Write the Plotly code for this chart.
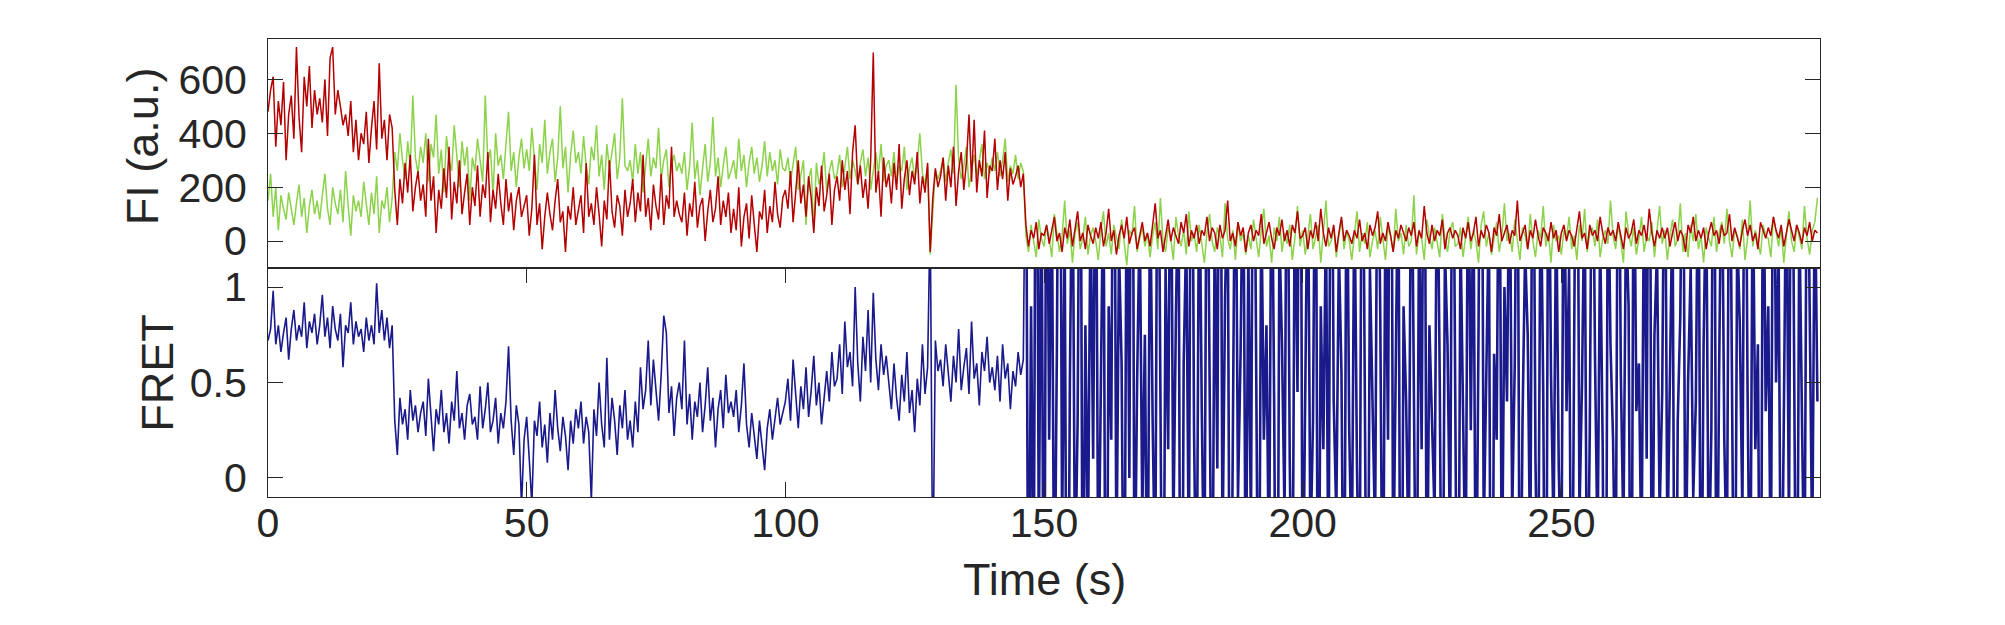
import plotly.graph_objects as go

# 时间步长 (s)，每个点 0.5 s
FRAME_DT = 0.5
# FRET 开始剧烈跳动的帧 (146.5 s)
BLEACH_IDX = 293

# 受体荧光 (红色)，每行 10 s
ACCEPTOR = [
    480, 560, 610, 350, 520, 430, 590, 300, 470, 540, 380, 720, 460, 330, 610, 500, 650, 420, 560, 470,
    530, 440, 600, 390, 680, 720, 470, 560, 500, 430, 470, 390, 520, 330, 450, 300, 400, 360, 480, 290,
    420, 520, 340, 660, 380, 450, 300, 470, 420, 190, 60, 230, 140, 290, 180, 320, 110, 200, 260, 150,
    210, 90, 380, 150, 240, 30, 190, 120, 270, 160, 350, 80, 220, 140, 300, 100, 180, 250, 60, 200,
    130, 280, 90, 210, 160, 330, 70, 190, 120, 250, 140, 60, 230, 110, 180, 40, 150, 200, 90, 130,
    170, 20, 120, 320, 60, 140, -30, 90, 180, 100, 40, 150, 230, 70, 110, -40, 130, 80, 200, 60,
    120, 170, 30, 290, 90, 140, 60, 200, 100, -20, 150, 80, 300, 110, 50, 170, 130, 20, 190, 90,
    140, 230, 70, 180, 110, 320, 90, 160, 40, 210, 130, 80, 250, 60, 170, 120, 350, 90, 150, 100,
    70, 180, 20, 140, 90, 220, 50, 130, 160, 0, 110, 190, 70, 120, 240, 60, 150, 90, 180, 30,
    120, 40, 200, -20, 90, 140, 10, 170, 60, -40, 110, 80, 190, 30, 130, 70, 220, 100, 50, 160,
    190, 120, 260, 70, 180, 300, 140, 210, 90, 240, 160, 30, 200, 130, 280, 110, 170, 250, 60, 190,
    240, 150, 300, 190, 260, 100, 330, 430, 210, 280, 160, 230, 120, 300, 700, 180, 260, 90, 310, 200,
    250, 140, 290, 190, 360, 120, 230, 300, 170, 260, 210, 330, 140, 240, 180, 290, -40, 160, 270, 200,
    240, 310, 150, 280, 200, 350, 130, 260, 330, 190, 290, 470, 220, 450, 180, 300, 240, 410, 160, 280,
    260, 380, 190, 300, 230, 330, 150, 270, 210, 240, 280, 200, 250, 60, -20, 40, 10, 70, -30, 30,
    20, 60, -10, 40, 90, 0, 30, -40, 50, 10, 80, -20, 40, 110, 0, 30, -30, 60, 20, -10,
    50, 10, 70, -20, 30, 120, 0, 40, -50, 20, 60, 10, 90, -10, 30, 50, -30, 20, 70, 0,
    30, -20, 60, 140, 10, 40, -40, 30, 80, 0, 50, 20, -10, 70, 30, 100, -20, 40, 10, 60,
    -10, 40, 20, 90, 0, 50, 30, -30, 60, 10, 40, 150, 0, 30, -20, 70, 20, 50, -40, 30,
    60, 0, 40, 20, 100, -10, 30, 70, 10, -30, 50, 20, 80, 0, 40, -20, 60, 30, 110, 10,
    20, 50, -30, 40, 10, 70, 0, 120, 30, -20, 50, 10, 60, -40, 30, 90, 0, 40, 20, -10,
    40, 10, 80, 0, 30, -30, 60, 20, 50, 110, -10, 30, 0, 70, 20, -40, 40, 10, 60, 30,
    0, 50, 20, 70, -20, 40, 10, 130, 30, -10, 60, 0, 40, 20, 80, -30, 30, 50, 10, 40,
    20, -30, 50, 10, 70, 0, 30, 90, -20, 40, 10, 60, 30, -40, 50, 20, 100, 0, 30, 60,
    -10, 40, 20, 150, 0, 30, 60, -30, 40, 10, 80, 20, -20, 50, 30, 0, 70, 10, 40, -40,
    30, 60, 0, 40, 20, -20, 50, 110, 10, 30, -30, 60, 20, 40, 0, 90, 30, -10, 50, 20,
    40, 0, 70, 20, -30, 50, 10, 30, 80, -10, 40, 20, 60, 0, 120, 30, -20, 40, 10, 50,
    10, 50, -20, 30, 70, 0, 40, 20, -40, 60, 30, 90, 0, 40, 10, 50, -30, 30, 70, 20,
    40, -10, 60, 20, 30, 100, 0, 50, 10, -20, 40, 80, 20, 60, 0, 30, -30, 70, 40, 10,
    50, 20, 90, 40, 10, 60, -20, 30, 80, 40, 0, 60, 30, -10, 50, 20, 70, 0, 40, 30,
]

# 供体荧光 (绿色)
DONOR = [
    150, 250, 90, 200, 40, 170, 120, 80, 180, 110, 60, 140, 210, 90, 160, 30, 130, 190, 100, 150,
    80, 170, 250, 120, 60, 200, 140, 100, 190, 70, 260, 130, 20, 170, 110, 150, 90, 220, 130, 60,
    180, 100, 240, 30, 150, 120, 200, 70, 160, 330, 260, 400, 300, 230, 370, 280, 540, 310, 250, 350,
    290, 400, 220, 360, 310, 470, 250, 340, 180, 390, 300, 260, 430, 320, 200, 370, 280, 350, 150, 310,
    260, 380, 300, 220, 540, 290, 340, 170, 400, 280, 320, 230, 360, 480, 260, 330, 200, 310, 380, 270,
    340, 260, 420, 300, 190, 360, 290, 450, 250, 330, 380, 220, 310, 500, 270, 350, 180, 320, 410, 290,
    330, 250, 390, 280, 210, 350, 300, 430, 240, 320, 190, 360, 270, 330, 400, 230, 310, 530, 280, 260,
    300, 220, 360, 250, 330, 180, 290, 380, 240, 310, 270, 420, 230, 300, 340, 200, 280, 320, 260, 290,
    250, 330, 190, 280, 440, 230, 300, 170, 270, 360, 220, 290, 460, 240, 310, 200, 280, 350, 230, 260,
    300, 230, 380, 260, 320, 200, 290, 350, 250, 310, 220, 280, 370, 240, 330, 260, 300, 210, 340, 270,
    260, 310, 220, 280, 350, 190, 240, 300, 60, 230, 270, 40, 290, 210, 250, 330, 180, 260, 300, 230,
    250, 320, 200, 280, 350, 230, 300, 260, 210, 290, 340, 240, 310, 190, 270, 330, 250, 360, 220, 280,
    300, 240, 330, 210, 280, 260, 350, 190, 270, 310, 230, 290, 400, 250, 210, 280, -50, 120, 260, 230,
    260, 310, 220, 290, 340, 250, 580, 300, 230, 280, 350, 200, 270, 320, 240, 300, 360, 230, 290, 250,
    310, 260, 330, 240, 300, 380, 220, 280, 250, 320, 230, 290, 260, 20, -40, 60, 0, -60, 80, 10,
    -20, 60, 10, -60, 100, 30, -40, 20, 150, -10, 40, -80, 30, 70, -30, 10, 90, -50, 20, 50,
    0, -70, 40, 110, -20, 30, -50, 60, 10, -30, 80, 0, -90, 40, 20, 130, -40, 10, 50, -20,
    30, -60, 20, 70, -30, 160, 0, -40, 50, 10, -70, 90, 20, -20, 40, -50, 110, 0, 30, -40,
    60, -10, -80, 30, 100, 0, -40, 50, 20, -60, 140, 10, -30, 40, -70, 70, 0, 30, -50, 20,
    -30, 80, 10, -60, 40, 120, -20, 20, -80, 50, 0, 90, -40, 30, -10, 60, -70, 10, 130, -20,
    40, -50, 20, 100, -30, 10, 60, -80, 30, 150, -20, 0, 50, -60, 20, 80, -30, 40, 0, -70,
    20, 110, -40, 30, -10, 70, -60, 0, 40, -30, 90, 10, -70, 50, 20, -40, 120, 0, 30, -50,
    60, -20, 0, 170, -50, 30, 10, -70, 80, 20, -30, 50, 0, -60, 100, 10, -40, 40, 70, -20,
    -10, 50, -60, 20, 90, -30, 40, 0, -80, 60, 110, -20, 30, -50, 10, 70, -40, 20, 140, 0,
    30, -40, 80, 10, -70, 50, 20, -30, 100, 0, -60, 40, 10, 130, -20, 30, -80, 60, 0, 20,
    -50, 40, 10, 90, -30, 20, -70, 60, 0, 120, -40, 30, 50, -20, 80, -60, 10, 40, -10, 150,
    20, -30, 60, 0, -80, 110, 30, -20, 50, -50, 10, 90, -40, 20, 0, 70, -60, 40, 130, -10,
    40, -70, 20, 80, -20, 10, 140, -40, 30, -60, 60, 0, 100, -30, 20, -80, 50, 10, -20, 90,
    -40, 30, 70, -10, 120, 0, -60, 40, 20, -30, 80, -70, 10, 150, -20, 40, 0, -50, 60, 20,
    10, -60, 90, 30, -20, 50, -80, 20, 110, 0, -40, 60, 20, -30, 130, 10, -50, 40, 70, 160,
]

# FRET 效率 (蓝色)
FRET = [
    0.72, 0.78, 0.98, 0.70, 0.80, 0.66, 0.76, 0.84, 0.62, 0.78, 0.88, 0.72, 0.80, 0.74, 0.92, 0.68, 0.82, 0.76, 0.86, 0.70,
    0.80, 0.96, 0.74, 0.84, 0.68, 0.90, 0.78, 0.72, 0.86, 0.58, 0.80, 0.76, 0.92, 0.70, 0.82, 0.74, 0.78, 0.66, 0.84, 0.72,
    0.80, 0.70, 1.02, 0.76, 0.88, 0.72, 0.84, 0.68, 0.80, 0.30, 0.12, 0.42, 0.28, 0.36, 0.20, 0.46, 0.30, 0.38, 0.24, 0.34,
    0.40, 0.22, 0.52, 0.30, 0.14, 0.36, 0.28, 0.46, 0.24, 0.34, 0.18, 0.40, 0.30, 0.56, 0.26, 0.34, 0.20, 0.38, 0.44, 0.28,
    0.32, 0.20, 0.48, 0.26, 0.36, 0.50, 0.24, 0.30, 0.42, 0.18, 0.34, 0.26, 0.40, 0.69, 0.30, 0.12, 0.38, 0.28, -0.15, 0.20,
    0.32, 0.10, -0.14, 0.30, 0.22, 0.40, 0.16, 0.28, 0.08, 0.34, 0.20, 0.46, 0.26, 0.14, 0.32, 0.22, 0.04, 0.30, 0.18, 0.36,
    0.26, 0.40, 0.18, 0.32, 0.24, -0.12, 0.36, 0.22, 0.50, 0.28, 0.16, 0.63, 0.20, 0.42, 0.30, 0.12, 0.38, 0.26, 0.46, 0.20,
    0.30, 0.16, 0.40, 0.24, 0.58, 0.36, 0.46, 0.72, 0.38, 0.62, 0.44, 0.30, 0.54, 0.85, 0.76, 0.34, 0.48, 0.22, 0.42, 0.50,
    0.36, 0.72, 0.28, 0.44, 0.20, 0.40, 0.32, 0.50, 0.24, 0.38, 0.58, 0.30, 0.42, 0.16, 0.36, 0.46, 0.26, 0.54, 0.34, 0.40,
    0.32, 0.46, 0.24, 0.38, 0.60, 0.28, 0.16, 0.34, 0.22, 0.10, 0.30, 0.18, 0.04, 0.26, 0.36, 0.20, 0.32, 0.42, 0.28, 0.34,
    0.40, 0.52, 0.30, 0.62, 0.44, 0.26, 0.48, 0.36, 0.58, 0.32, 0.46, 0.64, 0.38, 0.50, 0.28, 0.44, 0.56, 0.40, 0.66, 0.48,
    0.52, 0.70, 0.44, 0.82, 0.58, 0.66, 0.48, 1.00, 0.60, 0.40, 0.74, 0.56, 0.88, 0.50, 0.97, 0.62, 0.46, 0.70, 0.54, 0.64,
    0.48, 0.36, 0.60, 0.42, 0.30, 0.54, 0.40, 0.66, 0.34, 0.46, 0.24, 0.52, 0.38, 0.70, 0.44, 0.58, 1.40, -0.60, 0.72, 0.56,
    0.62, 0.48, 0.70, 0.54, 0.40, 0.64, 0.50, 0.78, 0.46, 0.58, 0.68, 0.44, 0.82, 0.52, 0.60, 0.38, 0.66, 0.56, 0.74, 0.50,
    0.58, 0.46, 0.64, 0.40, 0.70, 0.52, 0.60, 0.36, 0.56, 0.48, 0.66, 0.54, 0.62, 2.10, -1.20, 0.90, -0.80, 3.00, -0.40, 1.80,
    -1.50, 2.40, 0.20, 1.60, -0.90, 0.70, 3.10, -0.30, 1.30, -2.00, 0.50, 1.90, -0.60, 0.30, 2.60, -1.10, 0.80, -0.40, 1.50, 0.10,
    2.20, -0.70, 0.40, 1.70, -1.80, 0.90, 0.20, 2.80, -0.50, 1.20, 0.60, -1.30, 1.90, 0.00, 3.40, -0.80, 0.50, 1.40, -0.20, 0.75,
    -1.00, 1.60, 0.30, -0.60, 2.50, 0.45, -1.60, 1.10, 0.15, 2.20, -0.30, 0.85, 1.70, -2.40, 0.60, 1.30, -0.50, 2.90, 0.25, -0.90,
    1.80, 0.35, -0.70, 2.30, 0.55, -1.20, 1.40, 0.05, 3.20, -0.40, 0.95, 1.60, -1.70, 0.40, 2.10, -0.10, 0.65, 1.90, -0.80, 1.20,
    -0.30, 2.70, 0.50, -1.40, 1.50, 0.20, 0.80, -0.60, 2.00, 0.35, -2.10, 1.30, 0.70, -0.20, 2.40, 0.10, -1.00, 1.70, 0.45, 3.00,
    -0.90, 0.60, 1.80, -0.40, 0.30, 2.30, -1.50, 0.90, 0.15, 1.40, -0.70, 2.80, 0.40, -0.20, 1.20, 0.55, -1.30, 2.00, 0.25, -0.50,
    1.60, 0.05, -0.80, 2.60, 0.70, -1.60, 1.10, 0.30, -0.30, 2.20, 0.85, -1.10, 1.50, 0.20, 3.30, -0.60, 0.50, 1.80, -2.00, 0.90,
    0.40, -0.50, 2.10, 0.60, -1.20, 1.40, 0.15, 2.70, -0.90, 0.80, 0.35, -0.20, 1.90, 0.50, -1.50, 1.20, 0.70, -0.40, 2.50, 0.10,
    -1.70, 1.30, 0.45, -0.60, 2.00, 0.25, 1.60, -1.00, 0.80, 3.10, -0.30, 0.55, 1.40, -2.20, 0.65, 0.20, 2.30, -0.70, 1.00, 0.40,
    1.90, -0.20, 0.60, 2.40, -1.30, 0.30, 1.20, 0.75, -0.50, 2.60, 0.10, -0.90, 1.70, 0.45, -1.80, 2.20, 0.55, -0.30, 1.50, 0.05,
    -0.60, 2.00, 0.35, 1.10, -1.40, 0.80, 2.90, -0.20, 0.50, 1.60, -1.00, 0.25, 2.30, 0.65, -0.40, 1.30, 0.15, -2.10, 1.80, 0.70,
    0.20, -0.80, 2.50, 0.55, -0.30, 1.40, 0.90, -1.60, 2.10, 0.35, 0.60, -0.50, 1.70, 0.10, 3.20, -1.10, 0.75, 1.20, -0.20, 0.45,
    2.20, -0.40, 0.65, 1.50, -1.90, 0.30, 0.85, 2.40, -0.70, 0.50, 1.10, -0.10, 0.40, 2.00, -1.30, 0.70, 1.60, -0.60, 0.25, 2.80,
    -1.20, 0.55, 1.90, 0.20, -0.50, 2.30, 0.60, -1.40, 1.30, 0.80, -0.20, 2.60, 0.45, -0.90, 1.70, 0.15, 0.70, -1.70, 2.10, 0.35,
    0.90, -0.60, 2.40, 0.50, 1.20, -1.10, 0.30, 1.80, -0.30, 2.90, 0.60, -1.50, 1.40, 0.25, -0.70, 2.20, 0.85, -0.40, 1.60, 0.40,
]

# 坐标轴刻度
TIME_TICKS = [0, 50, 100, 150, 200, 250]
FI_TICKS = [0, 200, 400, 600]
FRET_TICKS = [0, 0.5, 1]
FRET_TICK_TEXT = ["0", "0.5", "1"]

FONT = "Liberation Sans, Arial, sans-serif"
AXCOLOR = "#262626"
BLUE = "#1A1A8C"

fig = go.Figure()

# 上图：荧光强度，绿色在下，红色在上
fig.add_trace(go.Scatter(y=DONOR, x0=0, dx=FRAME_DT, mode="lines",
                         line=dict(color="#8CD24B", width=1.5),
                         xaxis="x2", yaxis="y2", showlegend=False))
fig.add_trace(go.Scatter(y=ACCEPTOR, x0=0, dx=FRAME_DT, mode="lines",
                         line=dict(color="#B40000", width=1.5),
                         xaxis="x2", yaxis="y2", showlegend=False))
# 下图：FRET，漂白之后那段线画粗一点，显得更密
fig.add_trace(go.Scatter(y=FRET[:BLEACH_IDX + 1], x0=0, dx=FRAME_DT, mode="lines",
                         line=dict(color=BLUE, width=1.6),
                         xaxis="x", yaxis="y", showlegend=False))
fig.add_trace(go.Scatter(y=FRET[BLEACH_IDX:], x0=BLEACH_IDX * FRAME_DT, dx=FRAME_DT,
                         mode="lines", line=dict(color=BLUE, width=2.6),
                         xaxis="x", yaxis="y", showlegend=False))

axis_common = dict(showline=True, linecolor=AXCOLOR, linewidth=1,
                   ticks="inside", ticklen=15, tickwidth=1, tickcolor=AXCOLOR,
                   showgrid=False, zeroline=False,
                   tickfont=dict(family=FONT, size=41, color=AXCOLOR))

fig.update_layout(
    width=2005, height=625,
    margin=dict(l=260, r=193, t=31, b=136),
    paper_bgcolor="white", plot_bgcolor="white",
    xaxis=dict(axis_common, domain=[0, 1], range=[0, 300], anchor="y",
               tickvals=TIME_TICKS, mirror="ticks", ticklabelstandoff=-10),
    yaxis=dict(axis_common, domain=[0, 0.5], range=[-0.1, 1.1], anchor="x",
               tickvals=FRET_TICKS, ticktext=FRET_TICK_TEXT, mirror="ticks",
               ticklabelstandoff=12),
    xaxis2=dict(axis_common, domain=[0, 1], range=[0, 300], anchor="y2",
                matches="x", ticks="", showticklabels=False, mirror=True),
    yaxis2=dict(axis_common, domain=[0.5, 1], range=[-100, 750], anchor="x2",
                tickvals=FI_TICKS, mirror="ticks", ticklabelstandoff=12),
    annotations=[
        dict(text="FI (a.u.)", x=-0.0812, y=0.766, xref="paper", yref="paper",
             textangle=-90, showarrow=False, xanchor="center", yanchor="middle",
             font=dict(family=FONT, size=45, color=AXCOLOR)),
        dict(text="FRET", x=-0.0709, y=0.271, xref="paper", yref="paper",
             textangle=-90, showarrow=False, xanchor="center", yanchor="middle",
             font=dict(family=FONT, size=45, color=AXCOLOR)),
        dict(text="Time (s)", x=0.5, y=-0.181, xref="paper", yref="paper",
             showarrow=False, xanchor="center", yanchor="middle",
             font=dict(family=FONT, size=45, color=AXCOLOR)),
    ],
)

fig.write_html("out.html")
